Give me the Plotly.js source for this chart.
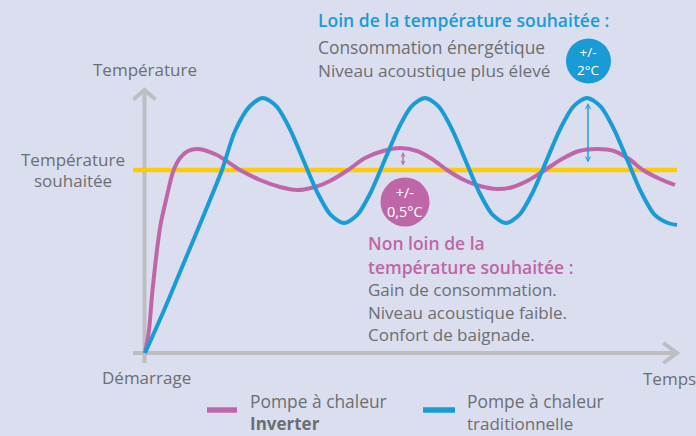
<!DOCTYPE html>
<html>
<head>
<meta charset="utf-8">
<script src="https://cdn.plot.ly/plotly-3.0.1.min.js"></script>
<style>html,body{margin:0;padding:0;background:#dadeef;}#chart{width:696px;height:436px;}</style>
</head>
<body>
<div id="chart"></div>
<script>
// Time (arbitrary units) and temperature (arbitrary units)
const blueTime = [0, 3.76, 7.52, 11.28, 14.47, 16.92, 19.74, 22.18, 24.72, 27.26, 29.79, 32.33, 34.87, 37.41, 39.94, 42.48, 45.02, 47.56, 50.09, 52.63, 55.17, 57.71, 60.24, 62.78, 65.32, 67.86, 70.39, 72.93, 75.47, 78.01, 80.55, 83.08, 85.62, 88.16, 90.70, 93.23, 95.77, 98.31, 100];
const blueTemp = [0, 4.5, 9.3, 14.1, 18.3, 22.2, 24.7, 25.5, 24.66, 22.37, 19.25, 16.12, 13.84, 13.0, 13.84, 16.12, 19.25, 22.37, 24.66, 25.5, 24.66, 22.37, 19.25, 16.12, 13.84, 13.0, 13.84, 16.12, 19.25, 22.37, 24.66, 25.5, 24.66, 22.37, 19.25, 16.12, 13.84, 13.0, 12.8];

const pinkTime = [0, 0.75, 1.32, 1.88, 2.44, 3.01, 3.95, 5.26, 6.58, 8.08, 9.96, 13.53, 17.86, 21.62, 25.38, 28.57, 31.95, 34.77, 38.16, 41.35, 44.74, 47.93, 51.13, 53.95, 56.77, 59.96, 62.97, 66.17, 69.17, 72.18, 75.19, 78.38, 81.58, 84.96, 88.16, 90.98, 93.61, 96.80, 99.62];
const pinkTemp = [0, 2.3, 5.8, 8.6, 11.1, 13.1, 15.3, 18.1, 19.5, 20.2, 20.4, 19.8, 18.3, 17.3, 16.6, 16.3, 16.6, 17.2, 18.3, 19.5, 20.2, 20.5, 20.2, 19.4, 18.3, 17.3, 16.7, 16.4, 16.6, 17.3, 18.3, 19.4, 20.2, 20.4, 20.2, 19.4, 18.3, 17.4, 16.8];

const targetTime = [-2.26, 100];
const targetTemp = [18.3, 18.3];

const seriesNames = ["Pompe à chaleur Inverter", "Pompe à chaleur traditionnelle"];

const BG = "#dadeef", GRAY = "#6d6e72", AXIS = "#bdbdc2";
const BLUE = "#199bd6", PINK = "#bf66a8", YELLOW = "#ffcb05";
const FONT = "Open Sans";

const traces = [
  {x: targetTime, y: targetTemp, mode: "lines", line: {color: YELLOW, width: 4.5}, hoverinfo: "skip", name: "Température souhaitée"},
  {x: pinkTime, y: pinkTemp, mode: "lines", line: {color: PINK, width: 4, shape: "spline", smoothing: 0.8}, name: seriesNames[0]},
  {x: blueTime, y: blueTemp, mode: "lines", line: {color: BLUE, width: 4, shape: "spline", smoothing: 0.8}, name: seriesNames[1]}
];

function txt(text, x, y, opts) {
  opts = opts || {};
  return Object.assign({
    text: text, x: x, y: y, xref: "x", yref: "y", showarrow: false,
    xanchor: "left", yanchor: "middle",
    font: {family: FONT, size: 17, color: GRAY}
  }, opts);
}

const annotations = [
  txt("Température", 0, 28.4, {xanchor: "center"}),
  txt("Température", -13.63, 19.4, {xanchor: "center"}),
  txt("souhaitée", -13.63, 17.3, {xanchor: "center"}),
  txt("Démarrage", 0.28, -2.4, {xanchor: "center"}),
  txt("Temps", 93.15, -2.5),
  txt("Loin de la température souhaitée :", 32.15, 33.3, {font: {family: FONT, size: 17.5, color: BLUE, weight: 600}}),
  txt("Consommation énergétique", 32.15, 30.6, {font: {family: FONT, size: 17.4, color: GRAY}}),
  txt("Niveau acoustique plus élevé", 32.15, 28.3, {font: {family: FONT, size: 17.2, color: GRAY}}),
  txt("Non loin de la", 41.55, 11.0, {font: {family: FONT, size: 17.5, color: PINK, weight: 600}}),
  txt("température souhaitée :", 41.55, 8.6, {font: {family: FONT, size: 17.5, color: PINK, weight: 600}}),
  txt("Gain de consommation.", 41.55, 6.4),
  txt("Niveau acoustique faible.", 41.55, 4.1),
  txt("Confort de baignade.", 41.55, 1.9),
  txt("Pompe à chaleur", 19.4, -4.8, {font: {family: FONT, size: 17.4, color: GRAY}}),
  txt("Inverter", 19.4, -7.0, {font: {family: FONT, size: 17, color: GRAY, weight: 700}}),
  txt("Pompe à chaleur", 60.2, -4.8, {font: {family: FONT, size: 17.4, color: GRAY}}),
  txt("traditionnelle", 60.2, -7.0),
  txt("+/-<br>0,5°C", 48.87, 15.1, {xanchor: "center", font: {family: FONT, size: 14.5, color: "#ffffff"}}),
  txt("+/-<br>2°C", 83.36, 29.2, {xanchor: "center", font: {family: FONT, size: 13.5, color: "#ffffff"}}),
  // double arrows showing deviation
  {x: 83.27, y: 25.0, ax: 83.27, ay: 18.9, xref: "x", yref: "y", axref: "x", ayref: "y", text: "", showarrow: true,
   arrowside: "end+start", arrowhead: 5, startarrowhead: 5, arrowsize: 0.7, startarrowsize: 0.7, arrowwidth: 1.4, arrowcolor: BLUE, standoff: 0, startstandoff: 0},
  {x: 48.5, y: 20.1, ax: 48.5, ay: 18.6, xref: "x", yref: "y", axref: "x", ayref: "y", text: "", showarrow: true,
   arrowside: "end+start", arrowhead: 5, startarrowhead: 5, arrowsize: 0.55, startarrowsize: 0.55, arrowwidth: 1.4, arrowcolor: PINK, standoff: 0, startstandoff: 0}
];

const shapes = [
  // axes
  {type: "line", xref: "x", yref: "y", x0: -0.1, x1: -0.1, y0: -1.0, y1: 26.3, line: {color: AXIS, width: 4}, layer: "below"},
  {type: "line", xref: "x", yref: "y", x0: -2.26, x1: 100, y0: 0, y1: 0, line: {color: AXIS, width: 4}, layer: "below"},
  {type: "path", xref: "x", yref: "y", path: "M -2.17,25.35 L -0.1,26.3 L 1.97,25.35", line: {color: AXIS, width: 4}, layer: "below"},
  {type: "path", xref: "x", yref: "y", path: "M 97.42,1.0 L 100,0 L 97.42,-1.0", line: {color: AXIS, width: 4}, layer: "below"},
  // circles
  {type: "circle", xref: "x", yref: "y", xsizemode: "pixel", ysizemode: "pixel", xanchor: 48.87, yanchor: 15.1,
   x0: -24.5, x1: 24.5, y0: -24.5, y1: 24.5, fillcolor: PINK, line: {width: 0}},
  {type: "circle", xref: "x", yref: "y", xsizemode: "pixel", ysizemode: "pixel", xanchor: 83.36, yanchor: 29.2,
   x0: -22.5, x1: 22.5, y0: -22.5, y1: 22.5, fillcolor: BLUE, line: {width: 0}},
  // legend swatches
  {type: "line", xref: "x", yref: "y", x0: 11.65, x1: 17.29, y0: -5.7, y1: -5.7, line: {color: PINK, width: 5.5}},
  {type: "line", xref: "x", yref: "y", x0: 52.26, x1: 58.27, y0: -5.7, y1: -5.7, line: {color: BLUE, width: 5.5}}
];

const layout = {
  width: 696, height: 436,
  margin: {l: 0, r: 0, t: 0, b: 0},
  paper_bgcolor: BG, plot_bgcolor: BG,
  showlegend: false,
  xaxis: {range: [-27.26, 103.57], visible: false, fixedrange: true},
  yaxis: {range: [-8.3, 35.3], visible: false, fixedrange: true},
  annotations: annotations,
  shapes: shapes,
  font: {family: FONT, color: GRAY}
};

Plotly.newPlot("chart", traces, layout, {displayModeBar: false, staticPlot: true});
</script>
</body>
</html>
